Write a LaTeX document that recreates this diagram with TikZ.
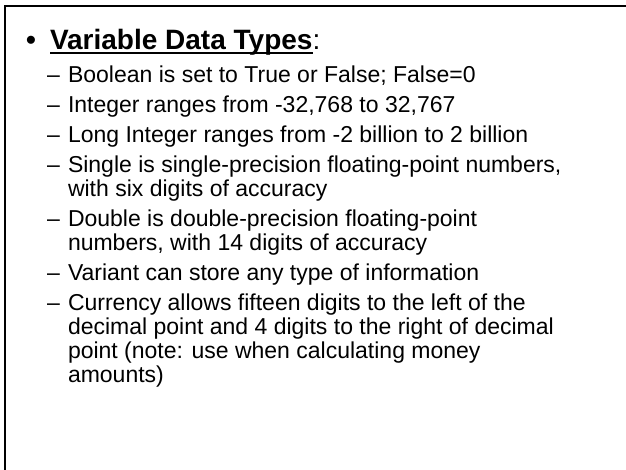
\documentclass[tikz,border=0pt]{standalone}
\usepackage{fontspec}
\setmainfont{Liberation Sans}
\begin{document}
\begin{tikzpicture}[x=1pt,y=1pt,
  txt/.style={anchor=base west,inner sep=0pt,outer sep=0pt,font=\fontsize{23}{24}\selectfont},
  head/.style={anchor=base west,inner sep=0pt,outer sep=0pt,font=\fontsize{28}{30}\selectfont\bfseries},
  frame/.style={line width=2.2pt,line cap=rect}]
\useasboundingbox (0,0) rectangle (626,-469);
% slide frame: top and left edges
\draw[frame] (5,-469) -- (5,-6) -- (626,-6);
% heading
\node[head] (dot) at (26,-49) {•};
\node[head] (title) at (50,-49) {Variable Data Types};
\node[head,font=\fontsize{28}{30}\selectfont] (colon) at (title.base east) {:};
\draw[line width=1.9pt] ([yshift=-3.8pt]title.base west) -- ([yshift=-3.8pt]title.base east);
% sub-items
\foreach \n/\y/\t in {
  d1/82/Boolean is set to True or False; False=0,
  d2/112/Integer ranges from -32{,}768 to 32{,}767,
  d3/142/Long Integer ranges from -2 billion to 2 billion,
  d4/172/{Single is single-precision floating-point numbers,},
  d5/226/Double is double-precision floating-point,
  d6/280/Variant can store any type of information,
  d7/310/Currency allows fifteen digits to the left of the}
  {\node[txt] (m\n) at (47,-\y) {–};
   \node[txt] (\n) at (68,-\y) {\t};}
\node[txt] (d4b) at (68,-196) {with six digits of accuracy};
\node[txt] (d5b) at (68,-250) {numbers, with 14 digits of accuracy};
\node[txt] (d7b) at (68,-334) {decimal point and 4 digits to the right of decimal};
\node[txt] (d7c) at (68,-358) {point (note: use when calculating money};
\node[txt] (d7d) at (68,-382) {amounts)};
\end{tikzpicture}
\end{document}
